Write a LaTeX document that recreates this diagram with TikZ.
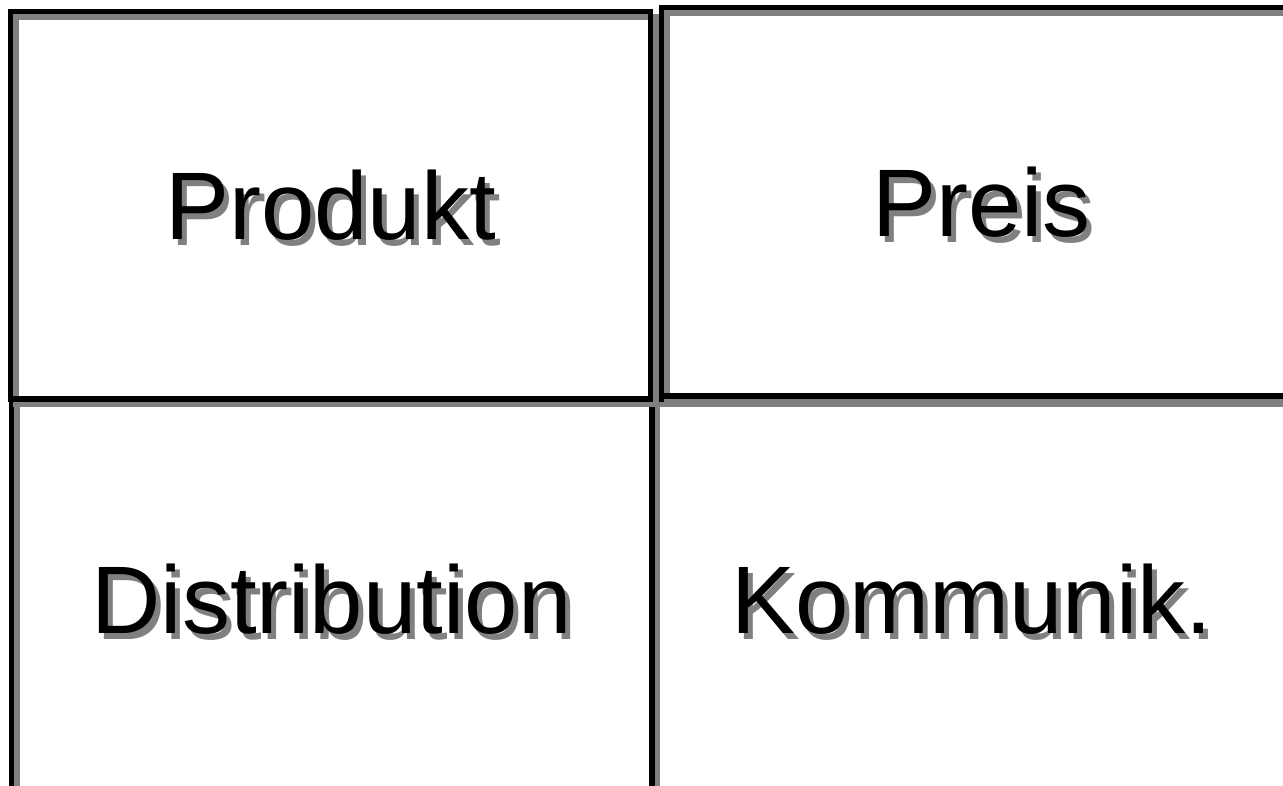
\documentclass[tikz,border=0pt]{standalone}
\usepackage{fontspec}
\setmainfont{Liberation Sans}
\usepackage{tikz}
\usetikzlibrary{positioning}
\usepackage{xcolor}

\definecolor{shadowgray}{HTML}{808080}
\newcommand{\shadowed}[1]{\makebox[0pt][l]{\hspace{5pt}\raisebox{-6pt}[0pt][0pt]{\color{shadowgray}#1}}#1}

\begin{document}
\begin{tikzpicture}[x=1pt,y=-1pt,
    field/.style={rectangle,draw=black,line width=5.5pt,inner sep=0pt,
      minimum width=640pt,minimum height=#1,
      font=\fontsize{96}{110}\selectfont},
    field/.default=388pt,
    fieldshadow/.style={draw=shadowgray,line width=5.5pt}]
    \useasboundingbox (0,0) rectangle (1283,786);
    \begin{scope}
    \clip (0,0) rectangle (1283,786);
    % lower row
    \draw[fieldshadow] (17,404) rectangle (657,804);
    \draw[fieldshadow] (657,404) rectangle (1297,804);
    \node[field=400pt] (distribution) at (331.5,599) {\shadowed{Distribution}};
    \node[field=400pt] (kommunik) at (972,599) {\shadowed{Kommunik.}};
    % upper row
    \draw[fieldshadow] (16,17) rectangle (656,404.5);
    \draw[fieldshadow] (667,13) rectangle (1307,401.5);
    \node[field=387.5pt] (produkt) at (330.5,205.25) {\shadowed{Produkt}};
    \node[field=388.5pt] (preis) at (981.5,201.75) {\shadowed{Preis}};
    \end{scope}
\end{tikzpicture}
\end{document}
